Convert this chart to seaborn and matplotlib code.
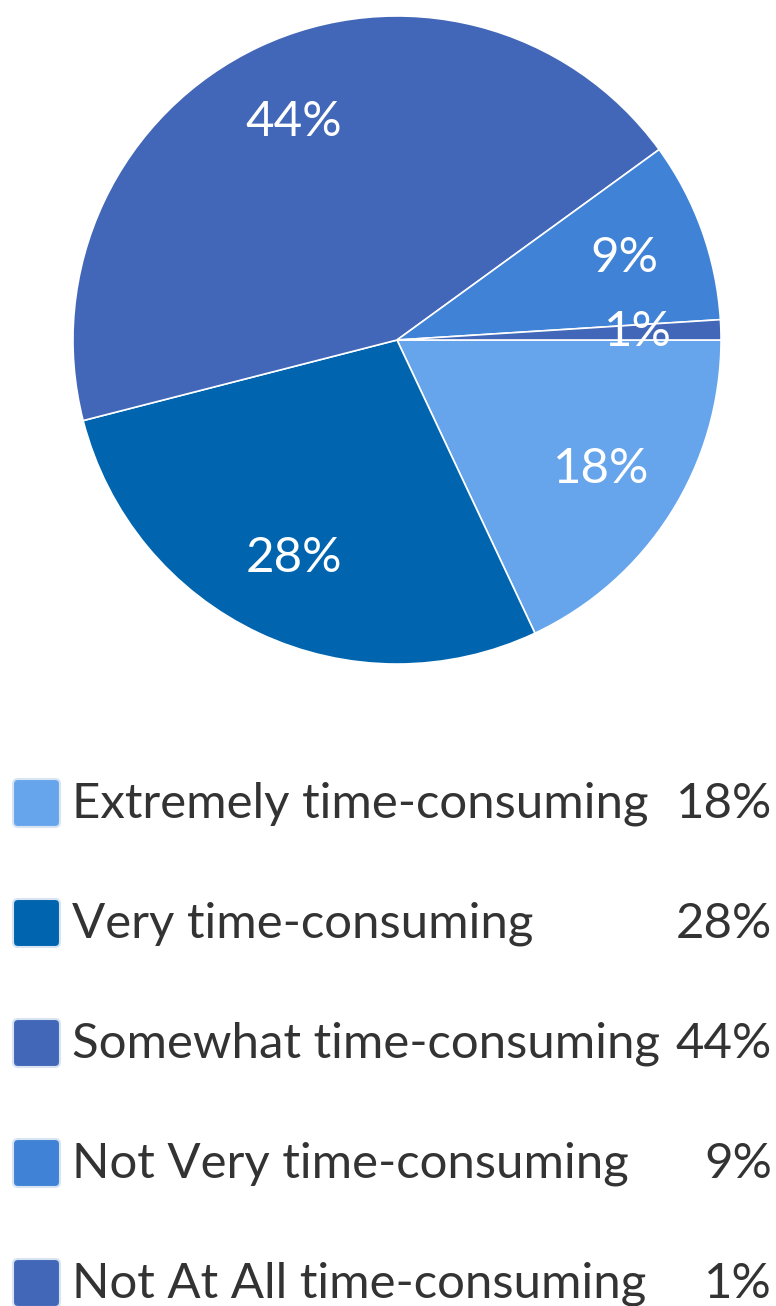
import matplotlib
matplotlib.use("Agg")
import matplotlib.pyplot as plt
from matplotlib.patches import FancyBboxPatch
import seaborn as sns

categories = [
    "Extremely time-consuming",
    "Very time-consuming",
    "Somewhat time-consuming",
    "Not Very time-consuming",
    "Not At All time-consuming",
]
shares = [18, 28, 44, 9, 1]
colors = ["#66A5EC", "#0064AE", "#4267B8", "#3F82D6", "#4267B8"]

sns.set_theme(style="white")
plt.rcParams["font.family"] = ["Lato", "DejaVu Sans"]

W, H = 776, 1306
fig = plt.figure(figsize=(W / 100, H / 100), dpi=100)
fig.patch.set_facecolor("white")

# Pie: centre (397, 340) px, radius 325 px
cx, cy, r = 397, 340, 325
ax = fig.add_axes([(cx - r) / W, (H - cy - r) / H, 2 * r / W, 2 * r / H])
wedges, texts, autotexts = ax.pie(
    shares,
    colors=colors,
    startangle=0,
    counterclock=False,
    autopct=lambda p: f"{p:.0f}%",
    pctdistance=0.745,
    wedgeprops=dict(edgecolor="white", linewidth=1.2),
    textprops=dict(color="white", fontsize=35.5),
)
ax.set_xlim(-1.003, 1.003)
ax.set_ylim(-1.003, 1.003)
ax.axis("off")

# Legend drawn in pixel coordinates
lax = fig.add_axes([0, 0, 1, 1])
lax.set_xlim(0, W)
lax.set_ylim(H, 0)
lax.axis("off")
row_y = [803, 923, 1043, 1163, 1283]
for y, name, val, col in zip(row_y, categories, shares, colors):
    box = FancyBboxPatch(
        (13, y - 24), 47, 48,
        boxstyle="round,pad=0,rounding_size=5",
        facecolor=col, edgecolor="#D8E4F2", linewidth=1.5,
    )
    lax.add_patch(box)
    lax.text(72, y + 1, name, fontsize=35.4, color="#333333",
             va="center", ha="left")
    lax.text(772, y + 1, f"{val}%", fontsize=35.4, color="#333333",
             va="center", ha="right")

fig.savefig("out.png", dpi=100, facecolor="white")
